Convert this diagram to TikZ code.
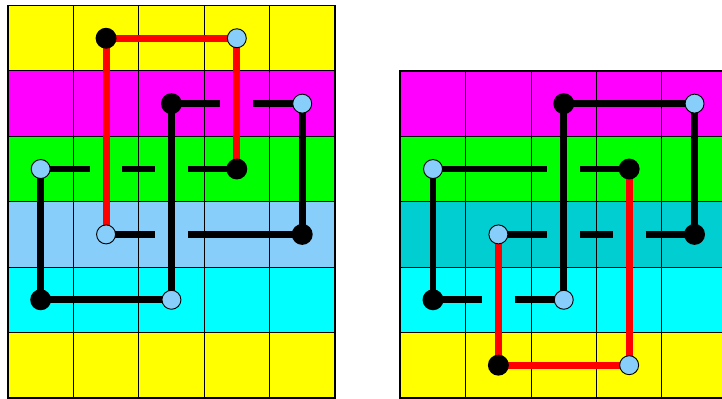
\documentclass[tikz,border=0pt]{standalone}
\definecolor{skyrow}{HTML}{87CEFA}
\definecolor{tealrow}{HTML}{00CED1}
\definecolor{cyanrow}{HTML}{00FFFF}
\definecolor{magrow}{HTML}{FF00FF}
\definecolor{yelrow}{HTML}{FFFF00}
\definecolor{greenrow}{HTML}{00FF00}
\definecolor{redline}{HTML}{FF0000}
\tikzset{
	wire/.style={line width=3pt},
	redwire/.style={line width=3pt, redline},
	bdot/.style={circle, fill=black, inner sep=0pt, minimum size=0.32cm},
	ldot/.style={circle, draw=black, line width=0.4pt, fill=skyrow, inner sep=0pt, minimum size=0.29cm}
}
\pgfdeclarelayer{back}
\pgfdeclarelayer{wires}
\pgfsetlayers{back,wires,main}
\begin{document}
\begin{tikzpicture}
\useasboundingbox (-0.122,-0.015) rectangle (10.92,6.085);
\begin{pgfonlayer}{back}
\foreach \y / \c in {0/yelrow, 1/cyanrow, 2/skyrow, 3/greenrow, 4/magrow, 5/yelrow}
	\fill[\c] (0,\y) rectangle (5,\y+1);
\foreach \y / \c in {0/yelrow, 1/cyanrow, 2/tealrow, 3/greenrow, 4/magrow}
	\fill[\c] (6,\y) rectangle (11,\y+1);
\draw[line width=0.4pt] (0,0) grid (5,6) (6,0) grid (11,5);
\draw[line width=0.8pt] (0,0) rectangle (5,6) (6,0) rectangle (11,5);
\end{pgfonlayer}
\foreach \n / \x / \y in {L15/1.5/5.5, L33/3.5/3.5, L24/2.5/4.5, L42/4.5/2.5, L01/0.5/1.5,
	R24/8.5/4.5, R33/9.5/3.5, R42/10.5/2.5, R01/6.5/1.5, R10/7.5/0.5}
	\node[bdot] (\n) at (\x,\y) {};
\foreach \n / \x / \y in {L35/3.5/5.5, L12/1.5/2.5, L44/4.5/4.5, L03/0.5/3.5, L21/2.5/1.5,
	R44/10.5/4.5, R03/6.5/3.5, R12/7.5/2.5, R21/8.5/1.5, R30/9.5/0.5}
	\node[ldot] (\n) at (\x,\y) {};
\begin{pgfonlayer}{wires}
\draw[redwire] (L12.center) -- (L15.center) -- (L35.center) -- (L33.center);
\draw[wire] (L03.center) -- (L01.center) -- (L21.center) -- (L24.center);
\draw[wire, dash pattern=on .75cm off .5cm on .75cm] (L24.center) -- (L44.center);
\draw[wire] (L44.center) -- (L42.center);
\draw[wire, dash pattern=on .75cm off .5cm on 1.75cm] (L12.center) -- (L42.center);
\draw[wire, dash pattern=on .75cm off .5cm on .5cm off .5cm on .75cm] (L03.center) -- (L33.center);
\draw[redwire] (R33.center) -- (R30.center) -- (R10.center) -- (R12.center);
\draw[wire] (R21.center) -- (R24.center) -- (R44.center) -- (R42.center);
\draw[wire] (R03.center) -- (R01.center);
\draw[wire, dash pattern=on 1.75cm off .5cm on .75cm] (R03.center) -- (R33.center);
\draw[wire, dash pattern=on .75cm off .5cm on .5cm off .5cm on .75cm] (R12.center) -- (R42.center);
\draw[wire, dash pattern=on .75cm off .5cm on .75cm] (R01.center) -- (R21.center);
\end{pgfonlayer}
\end{tikzpicture}
\end{document}
